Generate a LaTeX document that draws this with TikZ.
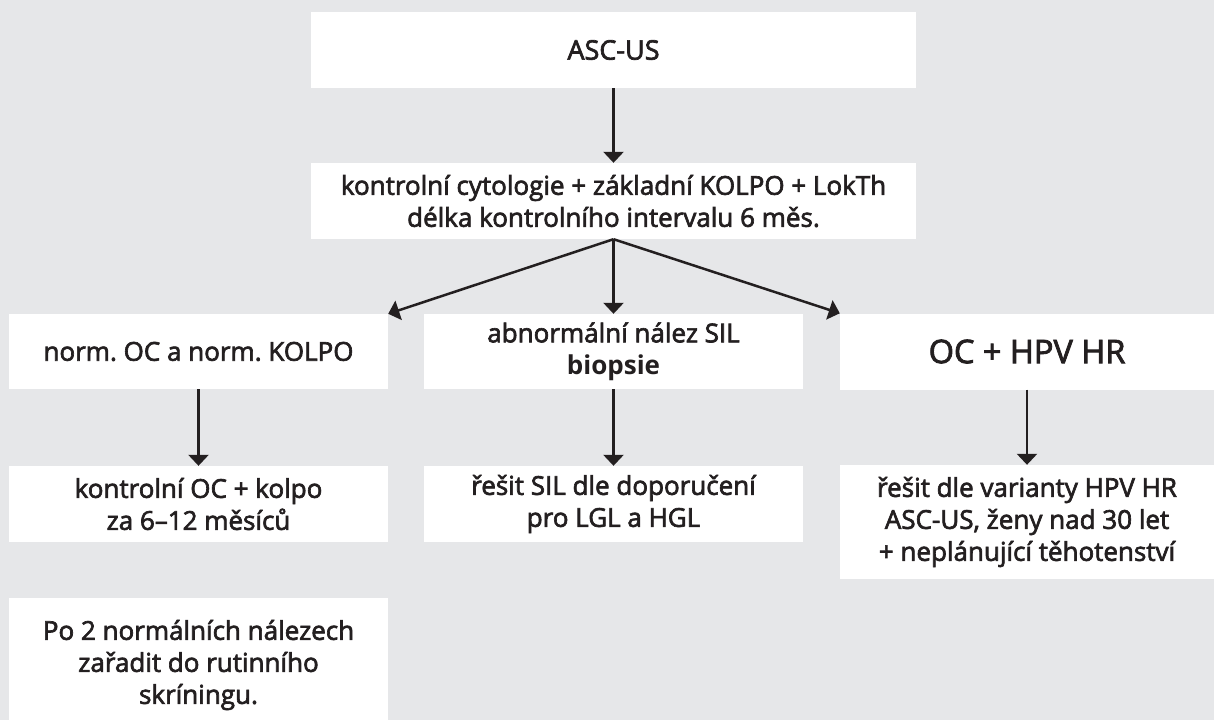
\documentclass[tikz,border=0pt]{standalone}
\usepackage{fontspec}
\setmainfont{Open Sans}
\newfontfamily\semi{Open Sans}[FakeBold=2.5]
\usetikzlibrary{arrows.meta}
\definecolor{bg}{HTML}{E6E7E9}
\definecolor{ink}{HTML}{231F20}
\frenchspacing
\tikzset{
  box/.style={fill=white, inner sep=0pt, align=center, text=ink,
    font=\semi\fontsize{26}{32}\selectfont},
  flow/.style={draw=ink, line width=2.5pt,
    -{Triangle[width=20pt,length=11pt]}},
}
\begin{document}
\begin{tikzpicture}[x=1pt,y=-1pt]
  \fill[bg] (0,0) rectangle (1214,720);
  \useasboundingbox (0,0) rectangle (1214,720);

  \node[box, minimum width=605pt, minimum height=76pt,
        font=\semi\fontsize{27}{32}\selectfont] (asc) at (613.5,50) {ASC-US};
  \node[box, minimum width=605pt, minimum height=76pt] (ctrl) at (613.5,201)
    {kontrolní cytologie + základní KOLPO + LokTh\\délka kontrolního intervalu 6 měs.};

  \node[box, minimum width=379pt, minimum height=75pt] (norm) at (198.5,351.5)
    {norm. OC a norm. KOLPO};
  \node[box, minimum width=379pt, minimum height=75pt] (abn) at (613.5,351.5)
    {abnormální nález SIL\\{\normalfont\bfseries biopsie}};
  \node[box, minimum width=374pt, minimum height=76pt,
        font=\semi\fontsize{32.5}{36}\selectfont] (hpv) at (1027,351.5) {OC + HPV HR};

  \node[box, minimum width=379pt, minimum height=76pt] (kolpo) at (198.5,504)
    {kontrolní OC + kolpo\\za 6–12 měsíců};
  \node[box, minimum width=379pt, minimum height=76pt] (sil) at (613.5,504)
    {řešit SIL dle doporučení\\pro LGL a HGL};
  \node[box, minimum width=374pt, minimum height=114pt] (var) at (1027,522)
    {řešit dle varianty HPV HR\\ASC-US, ženy nad 30 let\\+ neplánující těhotenství};

  \node[box, minimum width=379pt, minimum height=134pt] (rut) at (198.5,665)
    {Po 2 normálních nálezech\\zařadit do rutinního\\skríningu.};

  \draw[flow] (asc.south) -- (ctrl.north);
  \draw[flow] (ctrl.south) -- (norm.north east);
  \draw[flow] (ctrl.south) -- (abn.north);
  \draw[flow] (ctrl.south) -- (hpv.north west);
  \draw[flow] (norm.south) -- (kolpo.north);
  \draw[flow] (abn.south) -- (sil.north);
  \draw[flow] (hpv.south) -- (var.north);
\end{tikzpicture}
\end{document}
